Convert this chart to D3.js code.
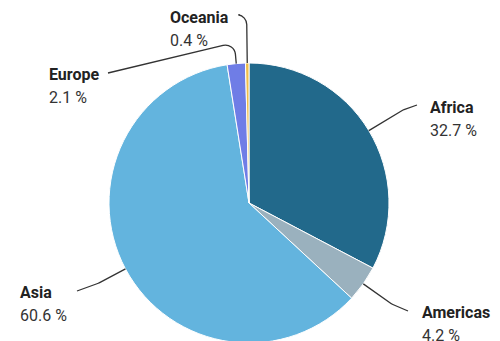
<!DOCTYPE html>
<html>
<head>
<meta charset="utf-8">
<script src="https://cdn.jsdelivr.net/npm/d3@7"></script>
<style>
  body { margin: 0; background: #fff; }
  .name { font-family: Roboto, sans-serif; font-weight: bold; font-size: 16px; fill: #222; }
  .value { font-family: Roboto, sans-serif; font-size: 16px; fill: #333; }
</style>
</head>
<body>
<div class="chart-container"></div>
<script>
const regions = ["Africa", "Americas", "Asia", "Europe", "Oceania"];
const shares = [32.7, 4.2, 60.6, 2.1, 0.4];
const colors = ["#22698b", "#9ab1be", "#63b4de", "#6f7de6", "#f0be4a"];

// label layout: elbow radius for connector, label anchor
const labelLayout = [
  {elbow: 180, endX: 417, endY: 105, tx: 430, ty: 113},
  {elbow: 175, endX: 408, endY: 311, tx: 422, ty: 318},
  {elbow: 170, endX: 77, endY: 291, tx: 20, ty: 298},
  {elbow: 161, endX: 108, endY: 73, tx: 49, ty: 80},
  {elbow: 187, endX: 240, endY: 15, tx: 170, ty: 23}
];

const width = 500, height = 341;
const cx = 249, cy = 203, radius = 140;

const svg = d3.select(".chart-container").append("svg")
    .attr("width", width)
    .attr("height", height);

const data = regions.map((r, i) => ({name: r, value: shares[i], color: colors[i], layout: labelLayout[i]}));

const pie = d3.pie().sort(null).value((d) => d.value);
const arc = d3.arc().innerRadius(0).outerRadius(radius);
const arcs = pie(data);

const g = svg.append("g")
    .attr("transform", "translate(" + cx + "," + cy + ")");

g.selectAll("path.slice")
    .data(arcs)
  .enter().append("path")
    .attr("class", "slice")
    .attr("d", arc)
    .style("fill", (d) => d.data.color)
    .style("stroke", "#fff")
    .style("stroke-width", 1);

// connectors
arcs.forEach((d) => {
  const mid = (d.startAngle + d.endAngle) / 2;
  const sx = Math.sin(mid), sy = -Math.cos(mid);
  const lay = d.data.layout;
  const p = d3.path();
  p.moveTo(sx * radius, sy * radius);
  p.arcTo(sx * lay.elbow, sy * lay.elbow, lay.endX - cx, lay.endY - cy, 10);
  p.lineTo(lay.endX - cx, lay.endY - cy);
  g.append("path")
      .attr("d", p.toString())
      .style("fill", "none")
      .style("stroke", "#333")
      .style("stroke-width", 1.3);

  svg.append("text")
      .attr("class", "name")
      .attr("x", lay.tx)
      .attr("y", lay.ty)
      .text(d.data.name);
  svg.append("text")
      .attr("class", "value")
      .attr("x", lay.tx)
      .attr("y", lay.ty + 23)
      .text(d.data.value + " %");
});
</script>
</body>
</html>
